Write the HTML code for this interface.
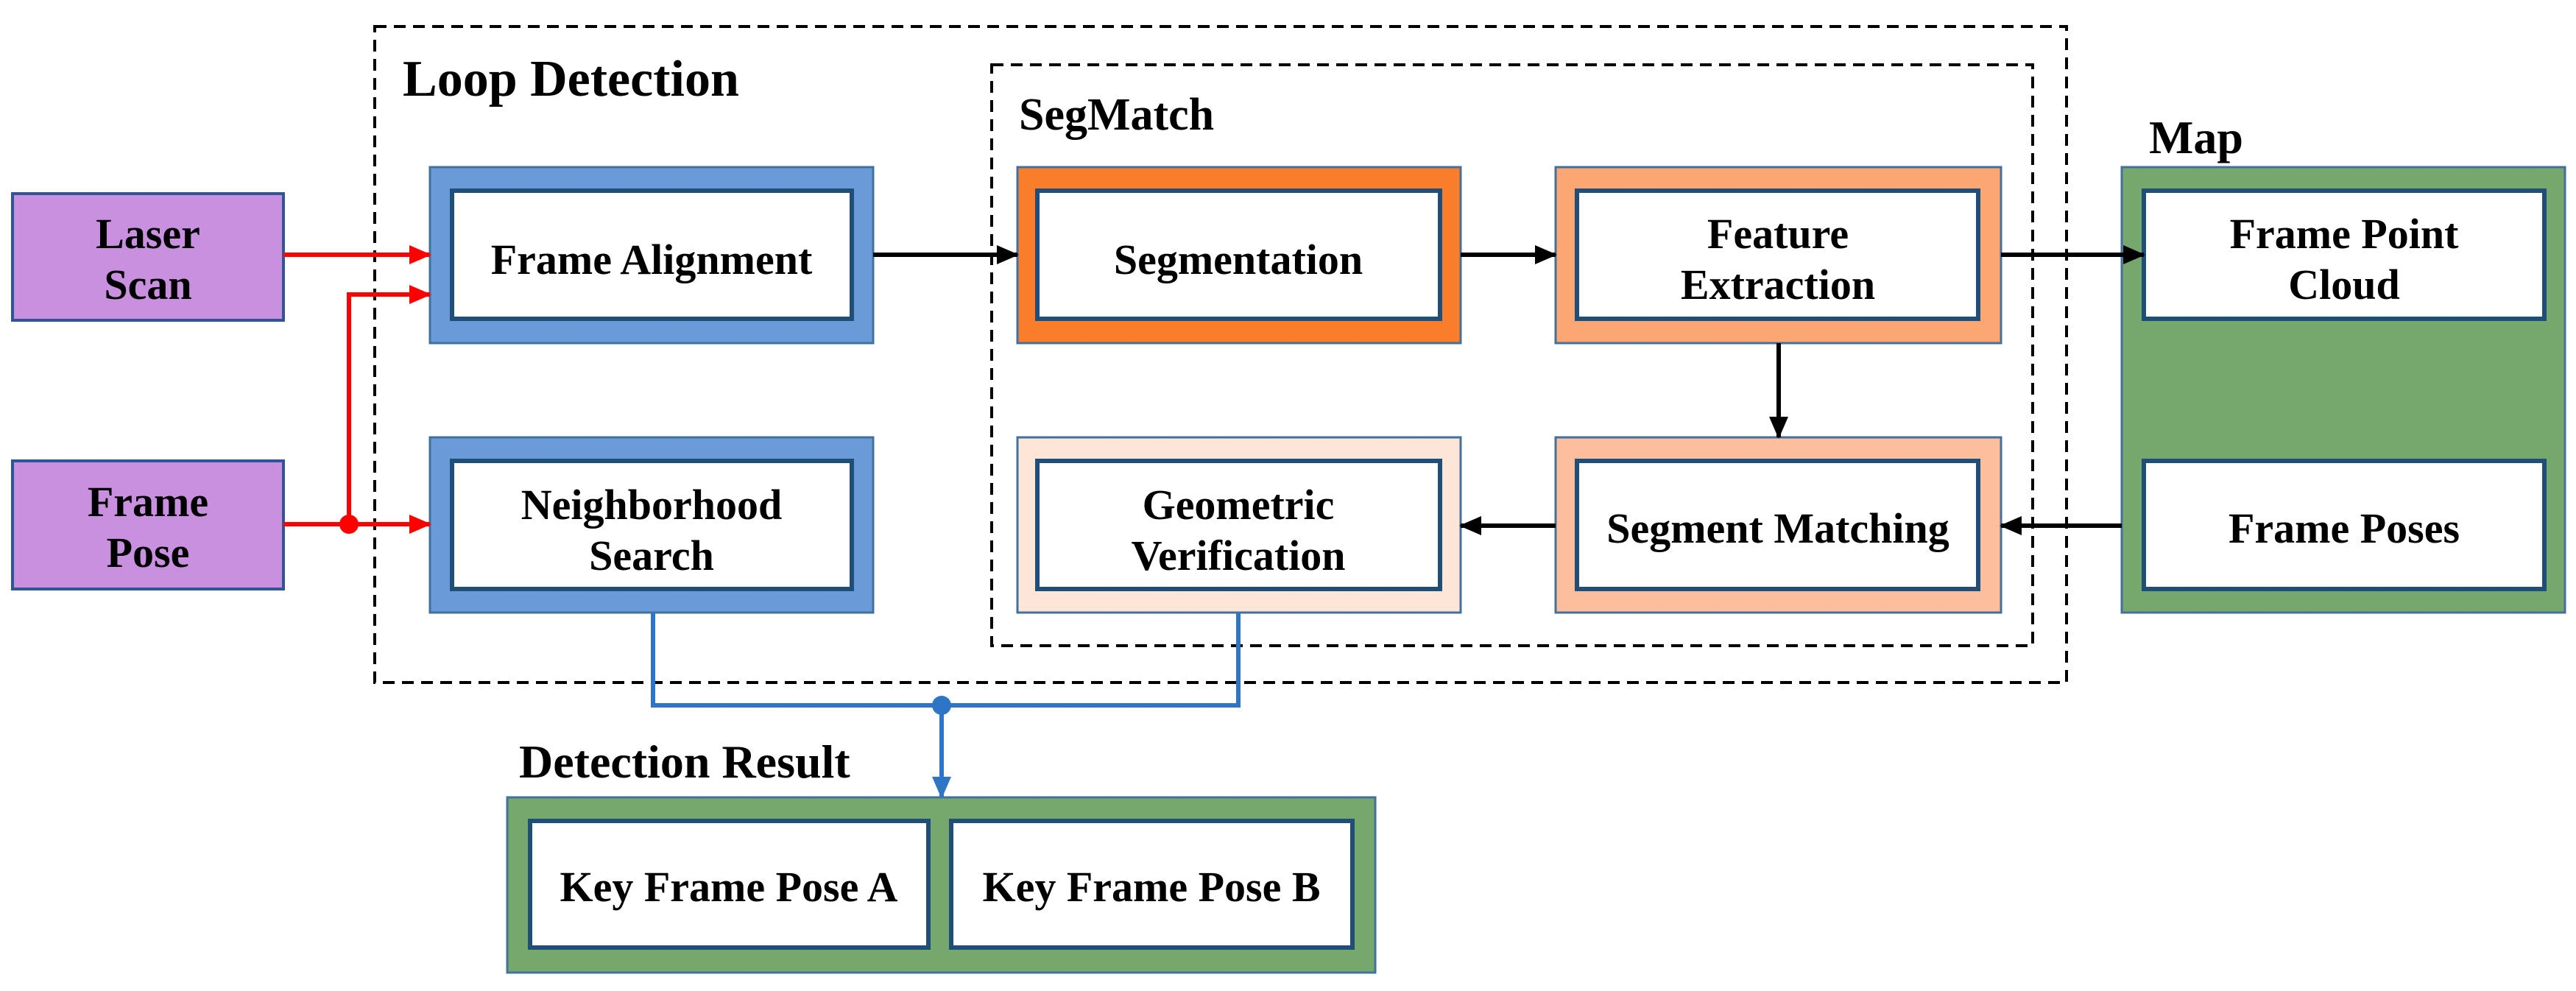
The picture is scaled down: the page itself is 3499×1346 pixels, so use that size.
<!DOCTYPE html>
<html><head><meta charset="utf-8"><style>
html,body{margin:0;padding:0;background:#fff;}
svg{display:block;}
text{font-family:"Liberation Serif",serif;font-weight:bold;fill:#000;}
</style></head><body>
<svg width="3499" height="1346" viewBox="0 0 3499 1346" xmlns="http://www.w3.org/2000/svg">
<defs>
<marker id="ar" markerWidth="30" markerHeight="30" refX="28" refY="15" orient="auto" markerUnits="userSpaceOnUse" viewBox="0 0 30 30"><path d="M0,2 L30,15 L0,28 z" fill="#ff0000"/></marker>
<marker id="ak" markerWidth="30" markerHeight="30" refX="28" refY="15" orient="auto" markerUnits="userSpaceOnUse" viewBox="0 0 30 30"><path d="M0,2 L30,15 L0,28 z" fill="#000"/></marker>
<marker id="ab" markerWidth="30" markerHeight="30" refX="28" refY="15" orient="auto" markerUnits="userSpaceOnUse" viewBox="0 0 30 30"><path d="M0,2 L30,15 L0,28 z" fill="#2e75c6"/></marker>
</defs>
<style>
.r{marker-end:url(#ar)} .k{marker-end:url(#ak)} .b{marker-end:url(#ab)}
</style>
<rect x="509" y="36" width="2298" height="891" fill="none" stroke="#000" stroke-width="4" stroke-dasharray="16,10"/>
<rect x="1347" y="88" width="1414" height="789" fill="none" stroke="#000" stroke-width="4" stroke-dasharray="16,10"/>
<text x="547" y="130" font-size="70">Loop Detection</text>
<text x="1384" y="176" font-size="62">SegMatch</text>
<text x="2919" y="208" font-size="64">Map</text>
<text x="705" y="1056" font-size="64">Detection Result</text>

<rect x="17" y="263" width="368" height="172" fill="#c990e0" stroke="#2f5597" stroke-width="4"/>
<text x="201" y="337" font-size="58" text-anchor="middle">Laser</text>
<text x="201" y="406" font-size="58" text-anchor="middle">Scan</text>
<rect x="17" y="626" width="368" height="174" fill="#c990e0" stroke="#2f5597" stroke-width="4"/>
<text x="201" y="701" font-size="58" text-anchor="middle">Frame</text>
<text x="201" y="770" font-size="58" text-anchor="middle">Pose</text>

<rect x="584" y="227" width="602" height="239" fill="#6a9bd8" stroke="#41719c" stroke-width="3"/>
<rect x="614" y="259" width="543" height="174" fill="#fff" stroke="#1f4e79" stroke-width="6"/>
<text x="885" y="372" font-size="58" text-anchor="middle">Frame Alignment</text>
<rect x="584" y="594" width="602" height="238" fill="#6a9bd8" stroke="#41719c" stroke-width="3"/>
<rect x="614" y="626" width="543" height="174" fill="#fff" stroke="#1f4e79" stroke-width="6"/>
<text x="885" y="705" font-size="58" text-anchor="middle">Neighborhood</text>
<text x="885" y="774" font-size="58" text-anchor="middle">Search</text>

<rect x="1382" y="227" width="602" height="239" fill="#f97d2b" stroke="#41719c" stroke-width="3"/>
<rect x="1409" y="259" width="547" height="174" fill="#fff" stroke="#1f4e79" stroke-width="6"/>
<text x="1682" y="372" font-size="58" text-anchor="middle">Segmentation</text>
<rect x="2113" y="227" width="605" height="239" fill="#fba673" stroke="#41719c" stroke-width="3"/>
<rect x="2142" y="259" width="545" height="174" fill="#fff" stroke="#1f4e79" stroke-width="6"/>
<text x="2415" y="337" font-size="58" text-anchor="middle">Feature</text>
<text x="2415" y="406" font-size="58" text-anchor="middle">Extraction</text>
<rect x="1382" y="594" width="602" height="238" fill="#fde5d8" stroke="#41719c" stroke-width="3"/>
<rect x="1409" y="626" width="547" height="174" fill="#fff" stroke="#1f4e79" stroke-width="6"/>
<text x="1682" y="705" font-size="58" text-anchor="middle">Geometric</text>
<text x="1682" y="774" font-size="58" text-anchor="middle">Verification</text>
<rect x="2113" y="594" width="605" height="238" fill="#fcbe9c" stroke="#41719c" stroke-width="3"/>
<rect x="2142" y="626" width="545" height="174" fill="#fff" stroke="#1f4e79" stroke-width="6"/>
<text x="2415" y="737" font-size="58" text-anchor="middle">Segment Matching</text>

<rect x="2882" y="227" width="602" height="605" fill="#76a76c" stroke="#41719c" stroke-width="3"/>
<rect x="2912" y="259" width="544" height="174" fill="#fff" stroke="#1f4e79" stroke-width="6"/>
<text x="3184" y="337" font-size="58" text-anchor="middle">Frame Point</text>
<text x="3184" y="406" font-size="58" text-anchor="middle">Cloud</text>
<rect x="2912" y="626" width="544" height="174" fill="#fff" stroke="#1f4e79" stroke-width="6"/>
<text x="3184" y="737" font-size="58" text-anchor="middle">Frame Poses</text>

<rect x="689" y="1083" width="1179" height="238" fill="#76a76c" stroke="#41719c" stroke-width="3"/>
<rect x="720" y="1115" width="541" height="172" fill="#fff" stroke="#1f4e79" stroke-width="6"/>
<text x="990" y="1224" font-size="58" text-anchor="middle">Key Frame Pose A</text>
<rect x="1292" y="1115" width="545" height="172" fill="#fff" stroke="#1f4e79" stroke-width="6"/>
<text x="1564" y="1224" font-size="58" text-anchor="middle">Key Frame Pose B</text>

<line x1="385" y1="346" x2="584" y2="346" stroke="#ff0000" stroke-width="6" class="r"/>
<polyline points="474,712 474,400 584,400" fill="none" stroke="#ff0000" stroke-width="6" class="r"/>
<line x1="385" y1="712" x2="584" y2="712" stroke="#ff0000" stroke-width="6" class="r"/>
<circle cx="474" cy="712" r="13" fill="#ff0000"/>

<line x1="1186" y1="346" x2="1382" y2="346" stroke="#000" stroke-width="6" class="k"/>
<line x1="1984" y1="346" x2="2113" y2="346" stroke="#000" stroke-width="6" class="k"/>
<line x1="2718" y1="346" x2="2912" y2="346" stroke="#000" stroke-width="6" class="k"/>
<line x1="2416" y1="466" x2="2416" y2="594" stroke="#000" stroke-width="6" class="k"/>
<line x1="2882" y1="714" x2="2718" y2="714" stroke="#000" stroke-width="6" class="k"/>
<line x1="2113" y1="714" x2="1984" y2="714" stroke="#000" stroke-width="6" class="k"/>

<polyline points="887,832 887,958 1682,958 1682,832" fill="none" stroke="#2e75c6" stroke-width="6"/>
<line x1="1279" y1="958" x2="1279" y2="1083" stroke="#2e75c6" stroke-width="6" class="b"/>
<circle cx="1279" cy="958" r="13" fill="#2e75c6"/>
</svg>
</body></html>
